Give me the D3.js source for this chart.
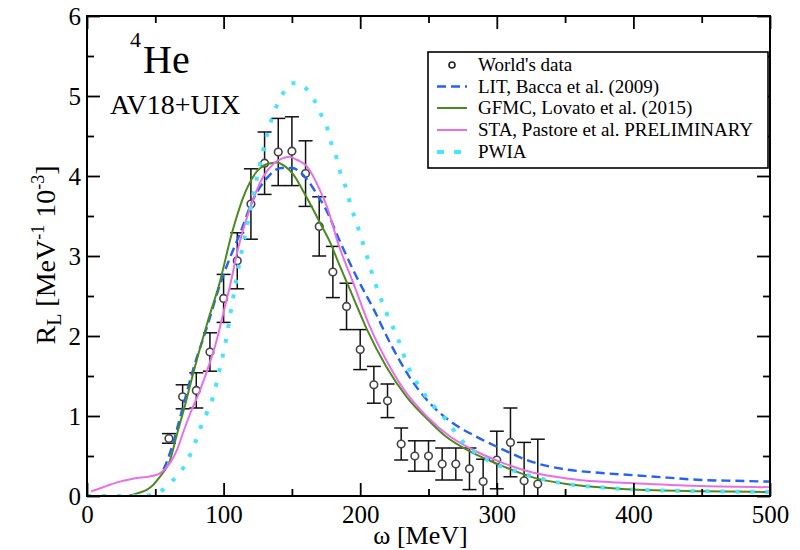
<!DOCTYPE html>
<html><head><meta charset="utf-8">
<script src="https://cdn.jsdelivr.net/npm/d3@7"></script>
<style>body{margin:0;background:#fff}svg{display:block}text{font-family:"Liberation Serif","Times New Roman",serif;fill:#000}</style>
</head><body><svg id="c" width="800" height="550"></svg>
<script>
// World's data
const dataW = [60,70,80,90,100,110,120,130,140,150,160,170,180,190,200,210,220,230,240,250,260,270,280,290,300,310,320,330];
const dataR = [0.72,1.24,1.32,1.80,2.47,2.94,3.65,4.16,4.30,4.31,4.03,3.37,2.80,2.37,1.83,1.39,1.19,0.65,0.50,0.50,0.40,0.40,0.34,0.18,0.45,0.67,0.19,0.15];
const dataErr = [0.06,0.15,0.22,0.24,0.30,0.35,0.44,0.39,0.42,0.43,0.41,0.37,0.32,0.29,0.25,0.23,0.21,0.20,0.19,0.19,0.20,0.20,0.26,0.28,0.36,0.43,0.48,0.56];
// LIT, Bacca et al. (2009)
const litW = [56,60,65,70,78,88,96,104,112,122,132,142,150,160,168,175,186,197,210,222,236,251,268,283,302,327,351,375,400,425,450,475,500];
const litR = [0.33,0.5,0.78,1.1,1.6,2.12,2.57,2.95,3.28,3.72,3.98,4.1,4.1,3.98,3.78,3.58,3.15,2.75,2.33,1.91,1.49,1.16,0.91,0.76,0.6,0.42,0.33,0.29,0.26,0.23,0.2,0.19,0.18];
// GFMC, Lovato et al. (2015)
const gfmcW = [30,34,40,44,48,52.5,56,60,66,72,78,88,97,106,114.5,124,132,139,145,151,158,165,171,178,184,192.5,205,219,234,251,263,280,302,327,351,375,400,450,500];
const gfmcR = [0,0.02,0.05,0.08,0.13,0.22,0.3,0.41,0.78,1.15,1.55,2.16,2.66,3.28,3.74,4.05,4.15,4.17,4.12,4.02,3.82,3.6,3.4,3.17,2.92,2.58,2.08,1.62,1.24,0.93,0.74,0.56,0.39,0.23,0.15,0.11,0.08,0.06,0.05];
// STA, Pastore et al. PRELIMINARY
const staW = [3,6,15,24,32,39,46,52,56,61,66,70.5,76,82.7,89,95,100,105,110,119,129,137,143,148,154,161,170.6,176,184,195,207,219,232,249,266,280,302,327,351,375,400,450,500];
const staR = [0.06,0.075,0.13,0.18,0.21,0.23,0.245,0.27,0.32,0.42,0.58,0.8,1.05,1.32,1.62,1.95,2.3,2.65,3.05,3.58,3.99,4.16,4.22,4.24,4.2,4.12,3.82,3.6,3.15,2.66,2.12,1.70,1.33,0.99,0.74,0.6,0.43,0.29,0.22,0.18,0.16,0.125,0.11];
// PWIA
const pwiaW = [0,20,40,50,55,60,68,74,79,83,88,93,97,101,106,112,118,124,130,135,140,145,150,155,160,166,171,176,179,183,186,190,193,197,204,211,219,228,235,244,254,263,273,293,310,327,351,375,400,450,500];
const pwiaR = [0,0,0,0.02,0.07,0.15,0.29,0.46,0.66,0.85,1.05,1.28,1.58,1.88,2.38,2.95,3.45,3.95,4.4,4.7,4.92,5.07,5.16,5.16,5.1,4.96,4.78,4.59,4.40,4.21,4.01,3.83,3.63,3.43,3.05,2.66,2.30,1.95,1.62,1.35,1.12,0.95,0.72,0.45,0.33,0.24,0.15,0.11,0.08,0.06,0.05];
// ticks
const xMajor = [0,100,200,300,400,500];
const xMinor = [50,150,250,350,450];
const yMajor = [0,1,2,3,4,5,6];
const yMinor = [0.5,1.5,2.5,3.5,4.5,5.5];
const legendLabels = ["World's data","LIT, Bacca et al. (2009)","GFMC, Lovato et al. (2015)","STA, Pastore et al. PRELIMINARY","PWIA"];

const svg = d3.select("#c");
const L=87,R=770,T=16,B=496;
const x = d3.scaleLinear().domain([0,500]).range([L,R]);
const y = d3.scaleLinear().domain([0,6]).range([B,T]);

svg.append("defs").append("clipPath").attr("id","clip").append("rect")
  .attr("x",L).attr("y",T).attr("width",R-L).attr("height",B-T);
const plot = svg.append("g").attr("clip-path","url(#clip)");

// data
const pts = dataW.map((w,i)=>({w,r:dataR[i],e:dataErr[i]}));
const eg = plot.append("g").attr("stroke","#111").attr("stroke-width",1.5).attr("fill","none");
pts.forEach(p=>{
  const xc=x(p.w), y1=y(p.r+p.e), y0=y(Math.max(0,p.r-p.e));
  eg.append("line").attr("x1",xc).attr("x2",xc).attr("y1",y1).attr("y2",y0);
  eg.append("line").attr("x1",xc-7).attr("x2",xc+7).attr("y1",y1).attr("y2",y1);
  if (p.r-p.e>0) eg.append("line").attr("x1",xc-7).attr("x2",xc+7).attr("y1",y0).attr("y2",y0);
});
plot.append("g").selectAll("circle").data(pts).join("circle")
  .attr("cx",d=>x(d.w)).attr("cy",d=>y(d.r)).attr("r",3.8)
  .attr("fill","#fff").attr("stroke","#444").attr("stroke-width",1.6);

const line = d3.line().x(d=>x(d[0])).y(d=>y(d[1])).curve(d3.curveMonotoneX);
const zip=(a,b)=>a.map((v,i)=>[v,b[i]]);
const styles = [
  {d:zip(litW,litR),c:"#2463f0",w:2.4,da:"9,5"},
  {d:zip(gfmcW,gfmcR),c:"#4a8a1e",w:2,da:null},
  {d:zip(staW,staR),c:"#ea6ee8",w:2,da:null},
  {d:zip(pwiaW,pwiaR),c:"#45e4ff",w:4,da:"4,11"}
];
styles.forEach(s=>{
  plot.append("path").attr("d",line(s.d)).attr("fill","none").attr("stroke",s.c)
   .attr("stroke-width",s.w).attr("stroke-dasharray",s.da);
});

// axes
function ax(gen, tr, vals, size, labels, pad){
  const g = svg.append("g").attr("transform",tr)
   .call(gen.tickValues(vals).tickSizeInner(-size).tickSizeOuter(0).tickPadding(pad||6)
     .tickFormat(labels?d3.format("d"):""));
  g.select(".domain").remove();
  g.selectAll(".tick line").attr("stroke","#000").attr("stroke-width",1.8);
  g.selectAll("text").attr("font-size",25).attr("font-family","Liberation Serif, serif");
  return g;
}
ax(d3.axisBottom(x),`translate(0,${B})`,xMajor,13,true,9);
ax(d3.axisBottom(x),`translate(0,${B})`,xMinor,7,false);
ax(d3.axisTop(x),`translate(0,${T})`,xMajor,13,false);
ax(d3.axisTop(x),`translate(0,${T})`,xMinor,7,false);
ax(d3.axisLeft(y),`translate(${L},0)`,yMajor,13,true,6);
ax(d3.axisLeft(y),`translate(${L},0)`,yMinor,7,false);
ax(d3.axisRight(y),`translate(${R},0)`,yMajor,13,false);
ax(d3.axisRight(y),`translate(${R},0)`,yMinor,7,false);
svg.append("rect").attr("x",L).attr("y",T).attr("width",R-L).attr("height",B-T)
  .attr("fill","none").attr("stroke","#000").attr("stroke-width",2);

// titles
svg.append("text").attr("x",(L+R)/2-8).attr("y",544).attr("text-anchor","middle").attr("font-size",26).text("ω [MeV]");
const yl = svg.append("text").attr("transform","translate(55,255) rotate(-90)").attr("text-anchor","middle").attr("font-size",28);
yl.append("tspan").text("R");
yl.append("tspan").attr("font-size",20).attr("dy",6).text("L");
yl.append("tspan").attr("dy",-6).text(" [MeV");
yl.append("tspan").attr("font-size",18).attr("dy",-11).text("-1");
yl.append("tspan").attr("dy",11).text(" 10");
yl.append("tspan").attr("font-size",18).attr("dy",-11).text("-3");
yl.append("tspan").attr("dy",11).text("]");

svg.append("text").attr("x",130).attr("y",47).attr("font-size",22).text("4");
svg.append("text").attr("x",143).attr("y",73).attr("font-size",40).text("He");
svg.append("text").attr("x",110).attr("y",114).attr("font-size",28).text("AV18+UIX");

// legend
const lg = svg.append("g");
lg.append("rect").attr("x",428).attr("y",52).attr("width",340).attr("height",116)
  .attr("fill","#fff").attr("stroke","#000").attr("stroke-width",1.6);
const rowY = [65,86.5,108,130,152];
lg.append("circle").attr("cx",452).attr("cy",rowY[0]).attr("r",3).attr("fill","#fff").attr("stroke","#222").attr("stroke-width",1.6);
styles.forEach((s,i)=>{
  lg.append("line").attr("x1",437).attr("x2",467).attr("y1",rowY[i+1]).attr("y2",rowY[i+1])
   .attr("stroke",s.c).attr("stroke-width",i==3?4:s.w).attr("stroke-dasharray",i==3?"7,10":s.da);
});
legendLabels.forEach((t,i)=>{
  lg.append("text").attr("x",478).attr("y",rowY[i]+6).attr("font-size",19).text(t);
});
</script></body></html>
